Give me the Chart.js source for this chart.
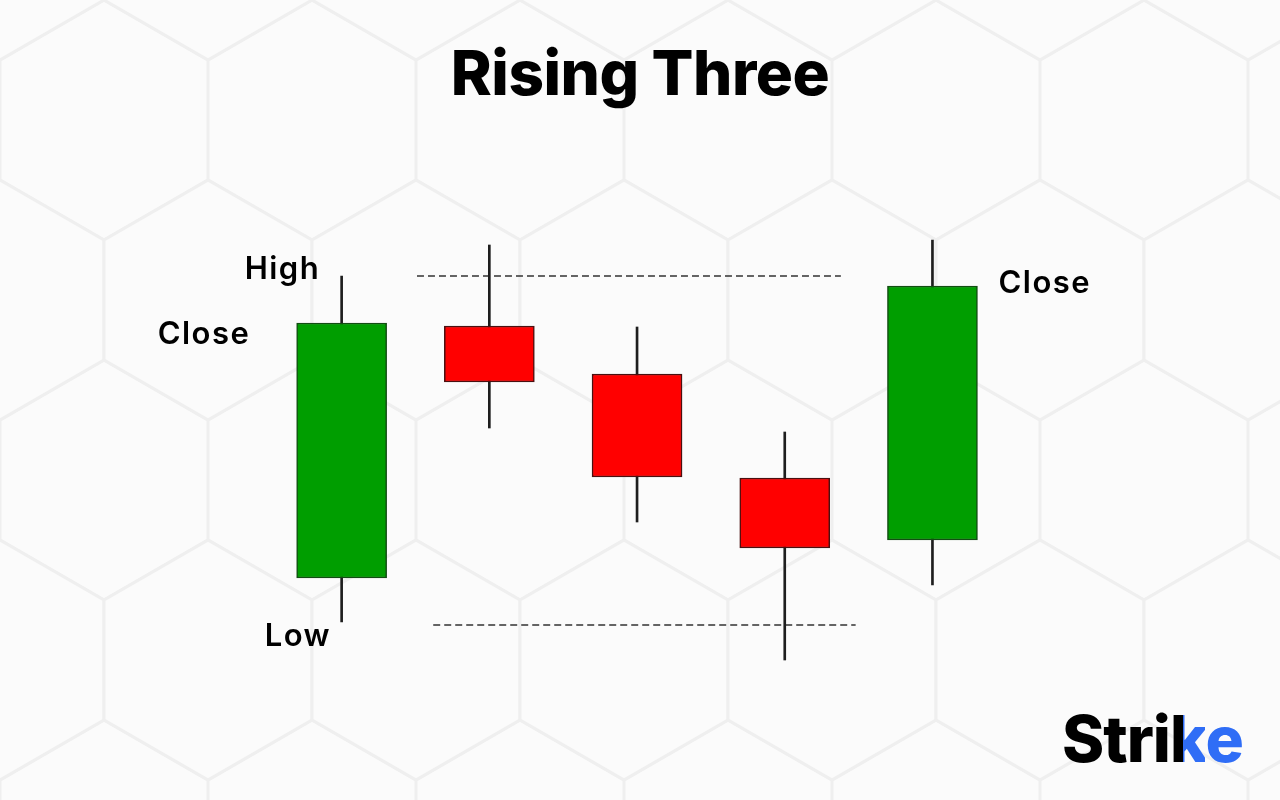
<!DOCTYPE html>
<html>
<head>
<meta charset="utf-8">
<script src="https://cdn.jsdelivr.net/npm/chart.js@4.4.1/dist/chart.umd.min.js"></script>
<style>
  html, body { margin: 0; padding: 0; }
  body {
    width: 1280px; height: 800px; overflow: hidden; position: relative;
    background-color: #f5f5f5;
    background-image: url("data:image/svg+xml;utf8,<svg xmlns='http://www.w3.org/2000/svg' width='208' height='360'><g fill='%23fbfbfb' stroke='%23efefef' stroke-width='3'><polygon points='104,0 208,60 208,180 104,240 0,180 0,60'/><polygon points='0,180 104,240 104,360 0,420 -104,360 -104,240'/><polygon points='208,180 312,240 312,360 208,420 104,360 104,240'/><polygon points='0,-180 104,-120 104,0 0,60 -104,0 -104,-120'/><polygon points='208,-180 312,-120 312,0 208,60 104,0 104,-120'/></g></svg>");
    font-family: Inter, "Noto Sans", sans-serif;
  }
  #wrap { position: absolute; left: 0; top: 0; width: 1280px; height: 800px; }
  #title {
    position: absolute; left: 0; width: 1280px; top: 35px; text-align: center;
    font-size: 62px; font-weight: 800; color: #000; letter-spacing: -0.5px;
  }
  #logo {
    position: absolute; left: 1062px; top: 700px;
    font-size: 64px; font-weight: 800; color: #000; letter-spacing: -1px;
  }
  #logo .k {
    background: linear-gradient(90deg, #000 0 36%, #2f6df6 36% 100%);
    -webkit-background-clip: text; background-clip: text; color: transparent;
  }
  #logo .e { color: #2f6df6; }
</style>
</head>
<body>
<div id="title">Rising Three</div>
<div id="wrap"><canvas id="myChart"></canvas></div>
<div id="logo">Stri<span class="k">k</span><span class="e">e</span></div>
<script>
// candle prices (arbitrary units), one per session
let sessions = [0, 1, 2, 3, 4];
let opens  = [12.2, 37.4, 32.6, 22.2, 16.0];
let closes = [37.7, 31.8, 22.3, 15.2, 41.4];
let highs  = [42.4, 45.5, 37.3, 26.8, 46.0];
let lows   = [7.8, 27.2, 17.8, 4.0, 11.5];

// dashed reference lines: [from session, to session], price
let topLineX = [0.51, 3.38];
let topLineY = 42.4;
let bottomLineX = [0.62, 3.48];
let bottomLineY = 7.5;

// annotation labels
let labelTexts = ['High', 'Close', 'Low', 'Close'];

let bodies = sessions.map((s, i) => ({ x: s, y: [opens[i], closes[i]] }));
let wicks = sessions.map((s, i) => ({ x: s, y: [lows[i], highs[i]] }));
let bodyColors = sessions.map((s, i) => closes[i] >= opens[i] ? '#009e00' : '#ff0000');
let bodyBorders = sessions.map((s, i) => closes[i] >= opens[i] ? '#124d12' : '#4a1010');

// draws the High / Close / Low words next to the candles
const candleLabels = {
  id: 'candleLabels',
  afterDatasetsDraw(chart) {
    const ctx = chart.ctx;
    const x = chart.scales.x, y = chart.scales.y;
    ctx.save();
    ctx.font = '600 31px Inter, "Noto Sans", sans-serif';
    ctx.letterSpacing = '1.5px';
    ctx.fillStyle = '#000';
    ctx.textBaseline = 'alphabetic';
    ctx.textAlign = 'left';
    ctx.fillText(labelTexts[0], x.getPixelForValue(sessions[0]) - 97, y.getPixelForValue(highs[0]) + 3);
    ctx.fillText(labelTexts[1], x.getPixelForValue(sessions[0]) - 184, y.getPixelForValue(closes[0]) + 21);
    ctx.fillText(labelTexts[2], x.getPixelForValue(sessions[0]) - 77, y.getPixelForValue(lows[0]) + 24);
    ctx.fillText(labelTexts[3], x.getPixelForValue(sessions[4]) + 66, y.getPixelForValue(closes[4]) + 7);
    ctx.restore();
  }
};

var ctx = document.getElementById('myChart').getContext('2d');
var chart = new Chart(ctx, {
  type: 'bar',
  data: {
    datasets: [
      {
        label: 'Body',
        data: bodies,
        backgroundColor: bodyColors,
        borderColor: bodyBorders,
        borderWidth: 1.5,
        borderSkipped: false,
        barThickness: 90,
        grouped: false
      },
      {
        label: 'Wick',
        data: wicks,
        backgroundColor: '#1e1e1e',
        borderWidth: 0,
        barThickness: 2,
        grouped: false
      },
      {
        type: 'line',
        label: 'Top',
        data: topLineX.map(v => ({ x: v, y: topLineY })),
        borderColor: '#333',
        borderWidth: 1.5,
        borderDash: [7, 4],
        pointRadius: 0
      },
      {
        type: 'line',
        label: 'Bottom',
        data: bottomLineX.map(v => ({ x: v, y: bottomLineY })),
        borderColor: '#333',
        borderWidth: 1.5,
        borderDash: [7, 4],
        pointRadius: 0
      }
    ]
  },
  options: {
    responsive: true,
    maintainAspectRatio: false,
    animation: false,
    layout: { padding: 0 },
    plugins: { legend: { display: false }, tooltip: { enabled: false } },
    scales: {
      x: { type: 'linear', min: -2.313, max: 6.353, display: false, offset: false },
      y: { min: -10, max: 70, display: false }
    }
  },
  plugins: [candleLabels]
});
</script>
</body>
</html>
